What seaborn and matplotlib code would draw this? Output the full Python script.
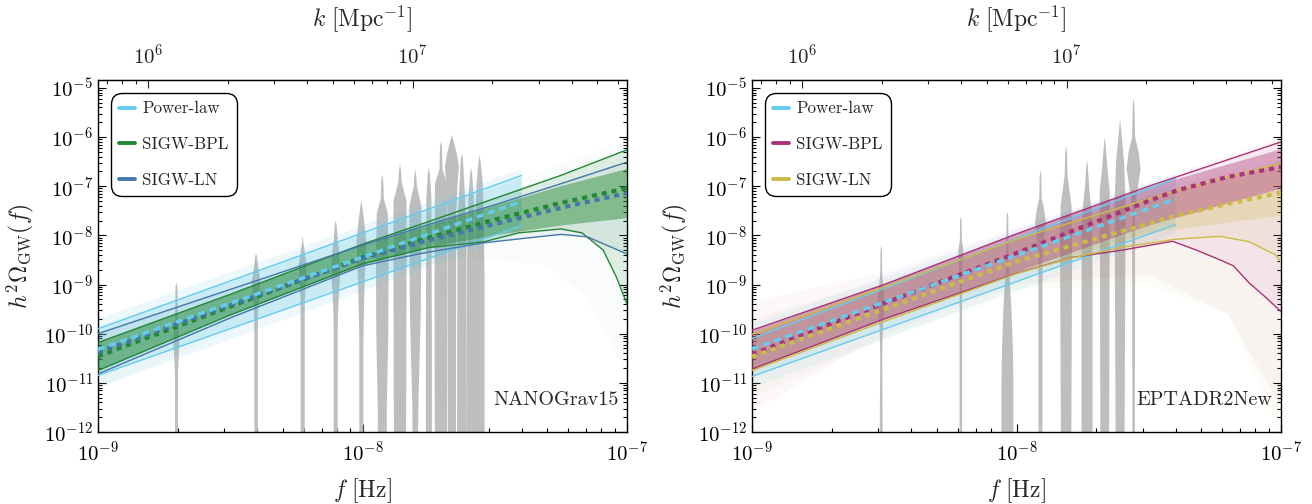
import numpy as np
import seaborn as sns
import matplotlib.pyplot as plt
from matplotlib.lines import Line2D
from matplotlib.ticker import FixedLocator, NullFormatter

# ----------------------------
# Data (log10 values)
# ----------------------------

# --- NANOGrav15 violins: frequency bins and (log10 h2Omega, half width) profiles
nano_vio_f = [1.98e-9, 3.96e-9, 5.94e-9, 7.92e-9, 9.90e-9, 1.188e-8, 1.386e-8,
              1.584e-8, 1.782e-8, 1.98e-8, 2.178e-8, 2.376e-8, 2.574e-8, 2.772e-8]
nano_vio_shape = [
    [(-8.97, 0), (-9.05, 1.0), (-9.7, 1.3), (-9.95, 2.3), (-10.2, 3.0), (-10.5, 2.2), (-10.8, 1.5), (-13, 1.4)],
    [(-8.36, 0), (-8.45, 1.0), (-8.7, 2.5), (-8.95, 4.3), (-9.25, 3.0), (-9.6, 2.0), (-10.0, 1.7), (-13, 1.7)],
    [(-8.0, 0), (-8.2, 1.0), (-8.4, 2.5), (-8.6, 4.0), (-8.9, 3.2), (-9.3, 2.2), (-9.7, 2.0), (-13, 2.0)],
    [(-7.69, 0), (-7.8, 1.0), (-8.1, 2.0), (-8.4, 3.8), (-8.8, 4.5), (-9.2, 3.2), (-9.6, 2.2), (-10.0, 2.0), (-13, 2.0)],
    [(-7.28, 0), (-7.45, 1.2), (-7.75, 3.0), (-8.1, 4.7), (-8.5, 4.2), (-9.0, 3.2), (-9.6, 2.5), (-10.2, 2.0), (-13, 2.0)],
    [(-6.76, 0), (-6.9, 1.0), (-7.25, 1.5), (-7.55, 5.5), (-8.5, 6.3), (-10.0, 6.0), (-11.5, 4.5), (-13, 4.5)],
    [(-6.53, 0), (-6.7, 1.0), (-6.9, 1.5), (-7.3, 6.5), (-9.0, 6.5), (-13, 6.0)],
    [(-6.65, 0), (-6.8, 1.0), (-7.0, 1.5), (-7.4, 6.0), (-9.5, 5.5), (-11.5, 3.0), (-13, 2.5)],
    [(-6.61, 0), (-6.75, 1.0), (-7.2, 2.5), (-10.0, 3.0), (-13, 3.0)],
    [(-6.08, 0), (-6.2, 1.0), (-6.65, 1.5), (-6.95, 6.0), (-9.0, 6.5), (-13, 6.0)],
    [(-5.96, 0), (-6.1, 2.0), (-6.35, 5.0), (-6.6, 7.0), (-7.0, 5.5), (-7.6, 4.3), (-13, 4.0)],
    [(-6.33, 0), (-6.45, 1.0), (-7.0, 2.5), (-7.8, 4.5), (-13, 5.0)],
    [(-6.63, 0), (-6.75, 1.0), (-7.2, 2.5), (-8.5, 4.0), (-13, 4.5)],
    [(-6.37, 0), (-6.5, 1.0), (-6.9, 3.0), (-7.5, 4.0), (-9.0, 5.0), (-13, 5.0)],
]

# --- NANOGrav15 spectra
nano_pl_logf = [-9, -7.398]
nano_pl_med = [-10.32, -7.31]
nano_pl_hi = [-9.9, -6.78]
nano_pl_lo = [-10.85, -7.8]
nano_pl_out_hi = [-9.7, -6.65]
nano_pl_out_lo = [-11.1, -7.95]

nano_logf = [-9, -8.5, -8, -7.75, -7.5, -7.25, -7]
nano_bpl_med = [-10.46, -9.45, -8.45, -8.05, -7.68, -7.34, -7.04]
nano_bpl_hi = [-10.18, -9.2, -8.18, -7.72, -7.25, -6.78, -6.26]
nano_bpl_core_hi = [-10.18, -9.2, -8.2, -7.8, -7.4, -7.0, -6.65]
nano_bpl_core_lo = [-10.75, -9.62, -8.6, -8.25, -8.0, -7.8, -7.65]
nano_bpl_lo_logf = [-9, -8.5, -8, -7.75, -7.54, -7.41, -7.25, -7.17, -7.09, -7.04, -7.0]
nano_bpl_lo = [-10.75, -9.62, -8.58, -8.25, -8.13, -7.95, -7.87, -7.95, -8.3, -8.85, -9.4]
nano_ln_med = [-10.38, -9.42, -8.47, -8.1, -7.77, -7.44, -7.14]
nano_ln_hi = [-10.0, -9.1, -8.2, -7.78, -7.38, -6.95, -6.51]
nano_ln_lo_logf = [-9, -8.5, -8, -7.78, -7.54, -7.25, -7.15, -7.0]
nano_ln_lo = [-10.82, -9.68, -8.62, -8.37, -8.15, -7.98, -8.03, -8.38]

nano_out_logf = [-9, -8.5, -8, -7.5, -7]
nano_bpl_out_hi = [-9.85, -8.95, -8.0, -7.05, -6.05]
nano_out_lo_logf = [-9, -8.5, -8, -7.6, -7.3, -7.15, -7]
nano_bpl_out_lo = [-11.1, -9.95, -8.85, -8.45, -8.6, -9.3, -10.8]

# --- EPTA DR2New violins
epta_vio_f = [3.08e-9, 6.16e-9, 9.24e-9, 1.232e-8, 1.54e-8, 1.848e-8, 2.156e-8, 2.464e-8, 2.772e-8]
epta_vio_shape = [
    [(-8.2, 0), (-8.3, 0.7), (-8.8, 1.0), (-9.0, 2.0), (-9.3, 3.4), (-9.6, 2.8), (-9.9, 1.5), (-10.5, 1.0), (-12.0, 1.5), (-13, 1.8)],
    [(-7.61, 0), (-7.7, 0.7), (-8.1, 1.0), (-8.25, 2.2), (-8.4, 2.7), (-8.6, 1.8), (-8.85, 1.2), (-13, 1.3)],
    [(-7.52, 0), (-7.6, 0.8), (-8.6, 1.2), (-9.0, 2.7), (-9.5, 4.0), (-10.2, 5.3), (-11.0, 6.0), (-13, 6.0)],
    [(-6.67, 0), (-6.8, 0.8), (-7.25, 1.2), (-7.45, 3.5), (-7.75, 5.5), (-8.0, 4.0), (-8.3, 2.0), (-13, 2.0)],
    [(-6.18, 0), (-6.3, 0.8), (-6.8, 1.5), (-7.4, 5.5), (-8.5, 6.0), (-13, 5.0)],
    [(-6.47, 0), (-6.6, 0.8), (-7.0, 2.0), (-7.6, 5.0), (-9.0, 5.5), (-13, 5.5)],
    [(-6.01, 0), (-6.15, 0.8), (-6.6, 2.5), (-7.1, 5.0), (-13, 4.3)],
    [(-5.64, 0), (-5.8, 0.8), (-6.5, 4.0), (-7.3, 5.5), (-13, 4.3)],
    [(-5.2, 0), (-5.35, 0.8), (-6.0, 1.5), (-6.3, 5.0), (-6.65, 7.0), (-7.0, 4.5), (-7.4, 1.5), (-13, 1.2)],
]

# --- EPTA DR2New spectra
epta_pl_logf = [-9, -7.398]
epta_pl_med = [-10.31, -7.26]
epta_pl_hi = [-10.1, -6.84]
epta_pl_lo = [-10.87, -7.78]
epta_pl_out_hi = [-9.8, -6.75]
epta_pl_out_lo = [-11.1, -7.95]

epta_core_logf = [-9, -8.5, -8, -7.5, -7]
epta_bpl_hi_logf = [-9, -8.5, -8, -7.5, -7]
epta_bpl_hi = [-9.93, -9.0, -7.97, -7.0, -6.1]
epta_bpl_core_hi = [-9.95, -9.0, -7.97, -7.02, -6.25]
epta_bpl_core_lo = [-10.72, -9.7, -8.75, -7.8, -7.05]
epta_bpl_med_logf = [-9, -8.5, -8, -7.5, -7.39, -7.2, -7]
epta_bpl_med = [-10.42, -9.38, -8.36, -7.3, -7.08, -6.81, -6.61]
epta_bpl_lo_logf = [-9, -8.5, -8, -7.79, -7.6, -7.41, -7.32, -7.23, -7.18, -7.12, -7.06, -7.0]
epta_bpl_lo = [-10.72, -9.7, -8.77, -8.45, -8.3, -8.12, -8.3, -8.5, -8.62, -8.97, -9.25, -9.55]

epta_ln_hi_logf = [-9, -8.5, -8, -7.39, -7]
epta_ln_hi = [-10.01, -9.05, -8.08, -7.08, -6.53]
epta_ln_core_hi = [-10.01, -9.05, -8.08, -7.2, -6.6]
epta_ln_core_lo = [-10.75, -9.75, -8.78, -7.95, -7.6]
epta_ln_med_logf = [-9, -8.5, -8, -7.39, -7.2, -7]
epta_ln_med = [-10.47, -9.5, -8.53, -7.59, -7.36, -7.13]
epta_ln_lo_logf = [-9, -8.5, -8, -7.8, -7.6, -7.4, -7.23, -7.12, -7.02, -7]
epta_ln_lo = [-10.75, -9.75, -8.78, -8.47, -8.24, -8.08, -8.02, -8.13, -8.4, -8.54]

epta_out_logf = [-9, -8.5, -8, -7.5, -7]
epta_bpl_out_hi = [-9.35, -8.75, -7.85, -6.92, -6.0]
epta_ln_out_hi = [-9.7, -8.9, -8.0, -7.1, -6.45]
epta_out_lo_logf = [-9, -8.5, -8, -7.5, -7.2, -7]
epta_bpl_out_lo = [-11.6, -10.0, -9.0, -8.8, -9.6, -11.5]
epta_ln_out_lo = [-11.3, -10.1, -9.1, -9.0, -9.6, -12.0]

labels = ["Power-law", "SIGW-BPL", "SIGW-LN"]
f_ticks = [1e-9, 1e-8, 1e-7]
k_ticks = [1e6, 1e7]
y_ticks = [1e-12, 1e-11, 1e-10, 1e-9, 1e-8, 1e-7, 1e-6, 1e-5]

# ----------------------------
# Style
# ----------------------------
CYAN, GREEN, BLUE = "#66CCEE", "#228833", "#4477AA"
PURPLE, YELLOW = "#AA3377", "#CCBB44"
VGRAY = "#BEBEBE"
PX_DEX = 1 / 264.5   # violin half-width unit in decades of f
F_TO_K = 1.546e-15    # f [Hz] = F_TO_K * k [Mpc^-1]

sns.set_style("ticks")
plt.rcParams["font.family"] = "cmr10"
plt.rcParams["mathtext.fontset"] = "cm"
plt.rcParams["axes.formatter.use_mathtext"] = True
plt.rcParams["axes.unicode_minus"] = False


def p(v):
    return 10 ** np.asarray(v, dtype=float)


def minors(decades):
    return [m * d for d in decades for m in range(2, 10)]


def violins(ax, freqs, shapes):
    for f0, prof in zip(freqs, shapes):
        lev = np.array([q[0] for q in prof])
        hw = np.array([q[1] for q in prof]) * PX_DEX
        xl = f0 * 10 ** (-hw)
        xr = f0 * 10 ** hw
        ax.fill(np.r_[xl, xr[::-1]], np.r_[p(lev), p(lev[::-1])],
                color=VGRAY, lw=0, zorder=1)


def band(ax, lf_hi, hi, lf_lo, lo, color, alpha, z=2):
    ax.fill(np.r_[p(lf_hi), p(lf_lo[::-1])], np.r_[p(hi), p(lo[::-1])],
            color=color, alpha=alpha, lw=0, zorder=z)


def line(ax, lf, v, color, lw=1.0, ls="-", z=4):
    sns.lineplot(x=p(lf), y=p(v), ax=ax, color=color, lw=lw, linestyle=ls,
                 zorder=z, legend=False)


DOT = (0, (1.2, 1.2))
DASH = (0, (2.0, 1.4))


def style_axes(ax, name):
    ax.set_xscale("log")
    ax.set_yscale("log")
    ax.set_xlim(1e-9, 1e-7)
    ax.set_ylim(1e-12, 10 ** -4.84)
    ax.yaxis.set_major_locator(FixedLocator(y_ticks))
    ax.yaxis.set_minor_locator(FixedLocator(minors(y_ticks)))
    ax.yaxis.set_minor_formatter(NullFormatter())
    ax.xaxis.set_major_locator(FixedLocator(f_ticks))
    ax.xaxis.set_minor_locator(FixedLocator(minors(f_ticks[:-1])))
    ax.xaxis.set_minor_formatter(NullFormatter())
    ax.tick_params(which="both", direction="in", right=True, top=False, width=0.8,
                   colors="black")
    ax.tick_params(which="major", length=6, labelsize=15)
    ax.tick_params(which="minor", length=3)
    ax.tick_params(axis="x", which="major", pad=6)
    for s in ax.spines.values():
        s.set_visible(True)
        s.set_color("black")
        s.set_linewidth(1.0)
    ax.set_xlabel(r"$f\ [\mathrm{Hz}]$", fontsize=17, labelpad=8)
    ax.set_ylabel(r"$h^2\Omega_{\rm GW}(f)$", fontsize=17, labelpad=6)
    sec = ax.secondary_xaxis("top", functions=(lambda f: f / F_TO_K, lambda k: k * F_TO_K))
    sec.xaxis.set_major_locator(FixedLocator(k_ticks))
    sec.xaxis.set_minor_locator(FixedLocator(minors([1e5, 1e6, 1e7])))
    sec.xaxis.set_minor_formatter(NullFormatter())
    sec.tick_params(which="both", direction="in", width=0.8)
    sec.tick_params(which="major", length=6, labelsize=15, pad=9)
    sec.tick_params(which="minor", length=3)
    sec.set_xlabel(r"$k\ [\mathrm{Mpc}^{-1}]$", fontsize=17, labelpad=12)
    ax.text(0.984, 0.09, name, transform=ax.transAxes, ha="right", va="center",
            fontsize=14.5, zorder=10)


def legend(ax, colors):
    hs = [Line2D([], [], color=c, lw=2.8) for c in colors]
    lg = ax.legend(hs, labels, loc="upper left", fontsize=12.2, labelspacing=1.2,
                   handlelength=0.95, handletextpad=0.4, borderpad=0.5,
                   borderaxespad=0.75, fancybox=True, framealpha=1,
                   edgecolor="black")
    lg.get_frame().set_linewidth(1.0)
    lg.get_frame().set_boxstyle("round", pad=0, rounding_size=0.65)
    lg.set_zorder(20)


fig = plt.figure(figsize=(13.12, 5.04), dpi=100)
ax1 = fig.add_axes([98 / 1312, 1 - 432 / 504, 529 / 1312, 352 / 504])
ax2 = fig.add_axes([752 / 1312, 1 - 432 / 504, 529 / 1312, 352 / 504])

# ----------------------------
# Left: NANOGrav15
# ----------------------------
violins(ax1, nano_vio_f, nano_vio_shape)
band(ax1, nano_pl_logf, nano_pl_out_hi, nano_pl_logf, nano_pl_out_lo, CYAN, 0.12)
band(ax1, nano_pl_logf, nano_pl_hi, nano_pl_logf, nano_pl_lo, CYAN, 0.22)
band(ax1, nano_out_logf, nano_bpl_out_hi, nano_out_lo_logf, nano_bpl_out_lo, GREEN, 0.025)
band(ax1, nano_logf, nano_ln_hi, nano_ln_lo_logf, nano_ln_lo, BLUE, 0.07, z=3)
band(ax1, nano_logf, nano_bpl_hi, nano_bpl_lo_logf, nano_bpl_lo, GREEN, 0.12, z=3)
band(ax1, nano_logf, nano_bpl_core_hi, nano_logf, nano_bpl_core_lo, GREEN, 0.45, z=3)

line(ax1, nano_pl_logf, nano_pl_hi, CYAN)
line(ax1, nano_pl_logf, nano_pl_lo, CYAN)
line(ax1, nano_logf, nano_bpl_hi, GREEN)
line(ax1, nano_bpl_lo_logf, nano_bpl_lo, GREEN)
line(ax1, nano_logf, nano_ln_hi, BLUE)
line(ax1, nano_ln_lo_logf, nano_ln_lo, BLUE)
line(ax1, nano_logf, nano_bpl_med, GREEN, lw=3.0, ls=DOT, z=5)
line(ax1, nano_logf, nano_ln_med, BLUE, lw=3.0, ls=DOT, z=5)
line(ax1, nano_pl_logf, nano_pl_med, CYAN, lw=2.5, ls=DASH, z=6)

style_axes(ax1, "NANOGrav15")
legend(ax1, [CYAN, GREEN, BLUE])

# ----------------------------
# Right: EPTA DR2New
# ----------------------------
violins(ax2, epta_vio_f, epta_vio_shape)
band(ax2, epta_pl_logf, epta_pl_out_hi, epta_pl_logf, epta_pl_out_lo, CYAN, 0.1)
band(ax2, epta_pl_logf, epta_pl_hi, epta_pl_logf, epta_pl_lo, CYAN, 0.18)
band(ax2, epta_out_logf, epta_ln_out_hi, epta_out_lo_logf, epta_ln_out_lo, YELLOW, 0.05)
band(ax2, epta_out_logf, epta_bpl_out_hi, epta_out_lo_logf, epta_bpl_out_lo, PURPLE, 0.035)
band(ax2, epta_ln_hi_logf, epta_ln_hi, epta_ln_lo_logf, epta_ln_lo, YELLOW, 0.08, z=3)
band(ax2, epta_bpl_hi_logf, epta_bpl_hi, epta_bpl_lo_logf, epta_bpl_lo, PURPLE, 0.07, z=3)
band(ax2, epta_core_logf, epta_ln_core_hi, epta_core_logf, epta_ln_core_lo, YELLOW, 0.22, z=3)
band(ax2, epta_core_logf, epta_bpl_core_hi, epta_core_logf, epta_bpl_core_lo, PURPLE, 0.38, z=3)

line(ax2, epta_pl_logf, epta_pl_hi, CYAN)
line(ax2, epta_pl_logf, epta_pl_lo, CYAN)
line(ax2, epta_bpl_hi_logf, epta_bpl_hi, PURPLE)
line(ax2, epta_bpl_lo_logf, epta_bpl_lo, PURPLE)
line(ax2, epta_ln_hi_logf, epta_ln_hi, YELLOW)
line(ax2, epta_ln_lo_logf, epta_ln_lo, YELLOW)
line(ax2, epta_bpl_med_logf, epta_bpl_med, PURPLE, lw=3.0, ls=DOT, z=5)
line(ax2, epta_ln_med_logf, epta_ln_med, YELLOW, lw=3.0, ls=DOT, z=5)
line(ax2, epta_pl_logf, epta_pl_med, CYAN, lw=2.5, ls=DASH, z=6)

style_axes(ax2, "EPTADR2New")
legend(ax2, [CYAN, PURPLE, YELLOW])

fig.savefig("out.png", dpi=100)
